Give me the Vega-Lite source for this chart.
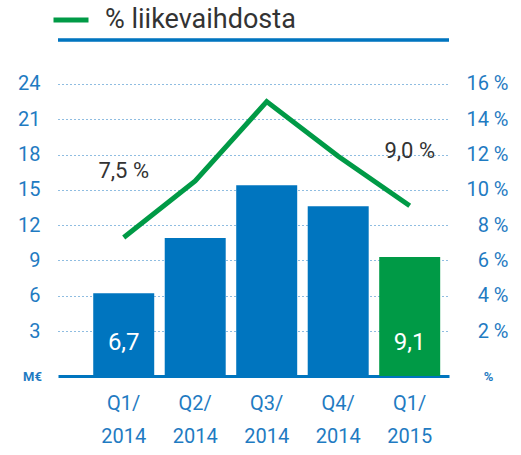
{
  "$schema": "https://vega.github.io/schema/vega-lite/v6.json",
  "autosize": "none",
  "width": 391,
  "height": 336,
  "padding": {"left": 58, "top": 40, "right": 72, "bottom": 79},
  "background": "white",
  "config": {
    "view": {"stroke": null},
    "font": "Roboto",
    "axis": {"labelFont": "Roboto", "titleFont": "Roboto"}
  },
  "data": {
    "values": [
      {"quarter": "Q1/2014", "meur": 6.2, "pct": 7.3, "barLabel": "6,7", "pctLabel": "7,5 %"},
      {"quarter": "Q2/2014", "meur": 10.9, "pct": 10.5, "barLabel": "", "pctLabel": ""},
      {"quarter": "Q3/2014", "meur": 15.4, "pct": 15.0, "barLabel": "", "pctLabel": ""},
      {"quarter": "Q4/2014", "meur": 13.6, "pct": 11.9, "barLabel": "", "pctLabel": ""},
      {"quarter": "Q1/2015", "meur": 9.3, "pct": 9.1, "barLabel": "9,1", "pctLabel": "9,0 %"}
    ]
  },
  "layer": [
    {
      "mark": {"type": "bar"},
      "encoding": {
        "x": {
          "field": "quarter",
          "type": "nominal",
          "sort": null,
          "scale": {"paddingInner": 0.147, "paddingOuter": 0.308, "align": 0.8},
          "axis": {
            "orient": "bottom",
            "title": null,
            "ticks": false,
            "domainColor": "#0075bf",
            "domainWidth": 3,
            "labelAngle": 0,
            "labelColor": "#1f7bc2",
            "labelFontSize": 20,
            "labelPadding": 17,
            "labelLineHeight": 33,
            "labelExpr": "[slice(datum.label, 0, 3), slice(datum.label, 3)]"
          }
        },
        "y": {
          "field": "meur",
          "type": "quantitative",
          "scale": {"domain": [-0.825, 27.74], "nice": false, "zero": false},
          "axis": {
            "values": [3, 6, 9, 12, 15, 18, 21, 24],
            "domain": false,
            "ticks": false,
            "grid": true,
            "gridColor": "#1f7bc2",
            "gridDash": [1, 3],
            "gridWidth": 1,
            "labelColor": "#1f7bc2",
            "labelFontSize": 20,
            "labelPadding": 18,
            "labelBaseline": "middle",
            "title": "M€",
            "titleAngle": 0,
            "titleFontSize": 13,
            "titleFontWeight": "bold",
            "titleColor": "#1f7bc2",
            "titleAlign": "center",
            "titleBaseline": "middle",
            "titleX": -26,
            "titleY": 336
          }
        },
        "y2": {"datum": -0.825},
        "color": {
          "condition": {"test": "datum.quarter === 'Q1/2015'", "value": "#009a46"},
          "value": "#0075bf"
        }
      }
    },
    {
      "mark": {"type": "text", "fontSize": 24, "color": "white", "baseline": "middle", "dy": -33},
      "encoding": {
        "x": {"field": "quarter", "type": "nominal", "sort": null},
        "y": {"datum": -0.825, "type": "quantitative", "scale": {"domain": [-0.825, 27.74], "nice": false, "zero": false}, "axis": null},
        "text": {"field": "barLabel"}
      }
    },
    {
      "mark": {"type": "line", "strokeWidth": 5},
      "encoding": {
        "x": {"field": "quarter", "type": "nominal", "sort": null},
        "y": {
          "field": "pct",
          "type": "quantitative",
          "scale": {"domain": [-0.55, 18.493], "nice": false, "zero": false},
          "axis": {
            "orient": "right",
            "values": [2, 4, 6, 8, 10, 12, 14, 16],
            "domain": false,
            "ticks": false,
            "grid": false,
            "labelColor": "#1f7bc2",
            "labelFontSize": 20,
            "labelAlign": "right",
            "labelPadding": 59,
            "labelBaseline": "middle",
            "labelExpr": "datum.value + ' %'",
            "title": "%",
            "titleAngle": 0,
            "titleFontSize": 13,
            "titleFontWeight": "bold",
            "titleColor": "#1f7bc2",
            "titleAlign": "center",
            "titleBaseline": "middle",
            "titleX": 39,
            "titleY": 336
          }
        },
        "color": {
          "datum": "% liikevaihdosta",
          "scale": {"range": ["#009a46"]},
          "legend": {
            "title": null,
            "orient": "none",
            "legendX": -7,
            "legendY": -40,
            "symbolType": "stroke",
            "symbolSize": 1225,
            "symbolStrokeWidth": 5,
            "labelFontSize": 27,
            "labelColor": "#333333",
            "labelOffset": 14,
            "labelLimit": 0,
            "labelFont": "Roboto"
          }
        }
      }
    },
    {
      "mark": {"type": "text", "fontSize": 22, "color": "#333333", "baseline": "middle", "dy": -66},
      "transform": [{"filter": "datum.quarter === 'Q1/2014'"}],
      "encoding": {
        "x": {"field": "quarter", "type": "nominal", "sort": null},
        "y": {"field": "pct", "type": "quantitative", "scale": {"domain": [-0.55, 18.493], "nice": false, "zero": false}, "axis": null},
        "text": {"field": "pctLabel"}
      }
    },
    {
      "mark": {"type": "text", "fontSize": 22, "color": "#333333", "baseline": "middle", "dy": -55},
      "transform": [{"filter": "datum.quarter === 'Q1/2015'"}],
      "encoding": {
        "x": {"field": "quarter", "type": "nominal", "sort": null},
        "y": {"field": "pct", "type": "quantitative", "scale": {"domain": [-0.55, 18.493], "nice": false, "zero": false}, "axis": null},
        "text": {"field": "pctLabel"}
      }
    },
    {
      "mark": {"type": "rule", "color": "#0075bf", "strokeWidth": 2.5},
      "encoding": {
        "y": {"datum": 27.74, "type": "quantitative", "scale": {"domain": [-0.825, 27.74], "nice": false, "zero": false}, "axis": null}
      }
    }
  ],
  "resolve": {"scale": {"y": "independent"}}
}
